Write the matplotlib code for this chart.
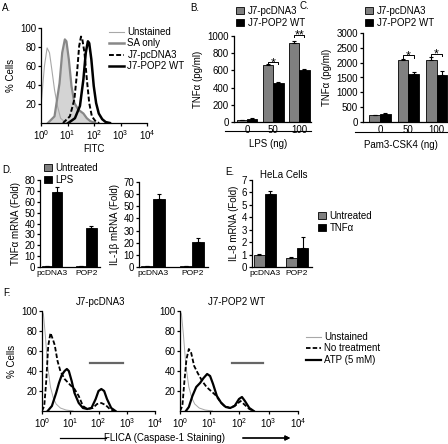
"""Multi-panel figure: flow histograms and bar charts."""

import numpy as np
import matplotlib
matplotlib.use("Agg")
from matplotlib import pyplot as plt
from matplotlib.lines import Line2D
from matplotlib.patches import Patch

# ---- data -------------------------------------------------------------
# A: FITC histograms (log10 position, % cells)
a_unst_x = [0, 0.13, 0.23, 0.32, 0.41, 0.51, 0.62, 0.74, 0.9, 1.1]
a_unst_y = [18, 60, 79, 74, 56, 35, 18, 5, 1, 0]
a_sa_x = [0.26, 0.51, 0.7, 0.8, 0.9, 0.96, 1.05, 1.15, 1.26, 1.41, 1.6, 1.73, 1.86, 2.05]
a_sa_y = [0, 7, 42, 74, 88, 86, 67, 39, 21, 14, 10, 5, 2, 0]
a_pc_x = [0.83, 1.09, 1.26, 1.36, 1.44, 1.51, 1.56, 1.64, 1.73, 1.82, 1.92, 2.08, 2.2]
a_pc_y = [0, 7, 25, 53, 81, 91, 88, 74, 46, 21, 7, 1, 0]
a_pop_x = [1.03, 1.28, 1.47, 1.6, 1.69, 1.77, 1.82, 1.9, 1.99, 2.08, 2.18, 2.31, 2.44, 2.6]
a_pop_y = [0, 5, 18, 46, 74, 86, 84, 67, 39, 21, 10, 4, 1, 0]

# B / C: TNFa ELISA
doses = ["0", "50", "100"]
b_pc = [20, 665, 920]
b_pc_err = [3, 10, 22]
b_pop = [40, 455, 610]
b_pop_err = [5, 5, 5]
c_pc = [240, 2100, 2090]
c_pc_err = [10, 30, 110]
c_pop = [270, 1620, 1600]
c_pop_err = [50, 70, 110]

# D / E: mRNA fold
cells = ["pcDNA3", "POP2"]
d_tnf_unt = [1, 1]
d_tnf_unt_err = [0.2, 0.2]
d_tnf_lps = [69, 36]
d_tnf_lps_err = [5, 2]
d_il1_unt = [1, 0.7]
d_il1_unt_err = [0.2, 0.2]
d_il1_lps = [56, 21]
d_il1_lps_err = [4.5, 3]
e_unt = [1.0, 0.75]
e_unt_err = [0.08, 0.05]
e_tnf = [5.85, 1.5]
e_tnf_err = [0.25, 0.9]

# F: FLICA histograms
f_unst_x = [0, 0.05, 0.12, 0.2, 0.3, 0.4, 0.5, 0.65, 0.85, 1.1]
f_unst_y = [100, 97, 75, 45, 24, 13, 7, 3, 1, 0]
fl_nt_x = [0, 0.08, 0.15, 0.22, 0.3, 0.38, 0.45, 0.55, 0.65, 0.8, 1.0, 1.15, 1.3,
           1.45, 1.6, 1.8, 1.95, 2.1, 2.25, 2.4, 2.55]
fl_nt_y = [0, 5, 30, 65, 78, 72, 66, 50, 40, 32, 26, 22, 15, 5, 2, 3, 7, 8, 6, 2, 0]
fl_atp_x = [0.2, 0.35, 0.5, 0.6, 0.7, 0.8, 0.88, 0.95, 1.05, 1.15, 1.3, 1.45, 1.6,
            1.75, 1.9, 2.0, 2.1, 2.2, 2.3, 2.45, 2.6]
fl_atp_y = [0, 5, 18, 28, 36, 40, 42, 40, 30, 18, 8, 3, 2, 3, 12, 20, 22, 20, 12, 3, 0]
fr_nt_x = [0, 0.08, 0.15, 0.22, 0.3, 0.38, 0.48, 0.6, 0.75, 0.9, 1.05, 1.2, 1.35,
           1.5, 1.7, 1.9, 2.05, 2.2, 2.35, 2.5]
fr_nt_y = [0, 5, 30, 52, 62, 58, 45, 38, 30, 24, 20, 16, 10, 5, 3, 6, 10, 6, 2, 0]
fr_atp_x = [0.2, 0.3, 0.42, 0.55, 0.68, 0.8, 0.92, 1.02, 1.12, 1.25, 1.4, 1.55, 1.7,
            1.85, 2.0, 2.1, 2.2, 2.35, 2.5]
fr_atp_y = [0, 4, 15, 24, 28, 33, 37, 35, 27, 15, 8, 4, 3, 5, 12, 14, 10, 3, 0]
# gate bars (log10 start, end)
fl_gate = [1.7, 2.85]
fr_gate = [1.76, 2.8]

decades = [0, 1, 2, 3, 4]

FS = 7
plt.rcParams["font.family"] = ["Liberation Sans", "DejaVu Sans"]
plt.rcParams["mathtext.fontset"] = "custom"
plt.rcParams["mathtext.rm"] = "Liberation Sans"
plt.rcParams["mathtext.it"] = "Liberation Sans"
plt.rcParams["font.size"] = FS
plt.rcParams["axes.linewidth"] = 0.9
plt.rcParams["xtick.major.width"] = 0.9
plt.rcParams["ytick.major.width"] = 0.9
plt.rcParams["xtick.major.size"] = 2.5
plt.rcParams["ytick.major.size"] = 2.5
plt.rcParams["xtick.major.pad"] = 1.5
plt.rcParams["ytick.major.pad"] = 1

W, H = 448, 444
fig = plt.figure(figsize=(W / 100, H / 100), dpi=100)

GRAY = "#808080"


def add_ax(x0, y0, x1, y1):
    ax = fig.add_axes([x0 / W, 1 - y1 / H, (x1 - x0) / W, (y1 - y0) / H])
    ax.spines["top"].set_visible(False)
    ax.spines["right"].set_visible(False)
    return ax


def fig_xy(x, y):
    return x / W, 1 - y / H


def log_axis(ax):
    ax.set_xscale("log")
    ax.set_xlim(1, 1e4)
    ax.set_xticks([10.0 ** d for d in decades])
    ax.set_xticklabels([rf"$\mathrm{{10}}^{{{d}}}$" for d in decades])
    ax.tick_params(axis="x", which="minor", length=1.5, width=0.6)
    ax.set_ylim(0, 100)
    ax.set_yticks([20, 40, 60, 80, 100])


def pair_bars(ax, a, a_err, b, b_err, w, labels):
    pos = np.arange(len(a))
    ekw = dict(lw=0.8, capsize=1.6, capthick=0.8, ecolor="black")
    ax.bar(pos - w / 2, a, w, yerr=[np.zeros(len(a)), a_err], color=GRAY,
           edgecolor="black", lw=0.6, error_kw=ekw)
    ax.bar(pos + w / 2, b, w, yerr=[np.zeros(len(b)), b_err], color="black",
           edgecolor="black", lw=0.6, error_kw=ekw)
    ax.set_xticks(pos)
    ax.set_xticklabels(labels)
    ax.tick_params(axis="x", length=0, pad=2)


def bracket(ax, x0, x1, y, drop, txt):
    ax.plot([x0, x0, x1, x1], [y - drop, y, y, y - drop], color="black",
            lw=0.7, clip_on=False)
    ax.annotate(txt, ((x0 + x1) / 2, y), xytext=(0, -3),
                textcoords="offset points", ha="center", va="baseline",
                fontsize=9, annotation_clip=False)


def x_caption(ax, x0, x1, y, txt, ty):
    ax.plot([x0, x1], [y, y], color="black", lw=0.8, transform=ax.transAxes,
            clip_on=False)
    ax.text((x0 + x1) / 2, ty, txt, ha="center", va="top",
            transform=ax.transAxes, fontsize=FS)


def box_legend(handles, labels, x, y):
    fig.legend(handles, labels, loc="upper left", bbox_to_anchor=fig_xy(x, y),
               frameon=False, borderpad=0, borderaxespad=0, labelspacing=0.2,
               handlelength=0.8, handleheight=0.8, handletextpad=0.4,
               fontsize=FS)


def line_legend(handles, labels, x, y):
    fig.legend(handles, labels, loc="upper left", bbox_to_anchor=fig_xy(x, y),
               frameon=False, borderpad=0, borderaxespad=0, labelspacing=0.15,
               handlelength=1.5, handletextpad=0.4, fontsize=FS)


# ---- A ----------------------------------------------------------------
axA = add_ax(41, 28, 147, 123)
log_axis(axA)
axA.fill_between(np.power(10.0, a_sa_x), a_sa_y, color="#d4d4d4", lw=0)
axA.plot(np.power(10.0, a_unst_x), a_unst_y, color="#a8a8a8", lw=0.8)
axA.plot(np.power(10.0, a_sa_x), a_sa_y, color="#888888", lw=1.6)
axA.plot(np.power(10.0, a_pc_x), a_pc_y, color="black", lw=1.4, ls=(0, (2.5, 1.2)))
axA.plot(np.power(10.0, a_pop_x), a_pop_y, color="black", lw=1.8)
axA.set_ylabel("% Cells", fontsize=FS, labelpad=3)
axA.set_xlabel("FITC", fontsize=FS, labelpad=1)
hA = [Line2D([], [], color="#a8a8a8", lw=0.8),
      Line2D([], [], color="#888888", lw=1.8),
      Line2D([], [], color="black", lw=1.4, ls=(0, (2.5, 1.2))),
      Line2D([], [], color="black", lw=1.8)]
line_legend(hA, ["Unstained", "SA only", "J7-pcDNA3", "J7-POP2 WT"], 109, 27)
fig.text(*fig_xy(2, 8), "A.", fontsize=FS, va="center")

# ---- B ----------------------------------------------------------------
hBC = [Patch(facecolor=GRAY, edgecolor="black", lw=0.6),
       Patch(facecolor="black", edgecolor="black", lw=0.6)]
axB = add_ax(234, 36, 311, 122)
pair_bars(axB, b_pc, b_pc_err, b_pop, b_pop_err, 0.4, doses)
axB.set_xlim(-0.5, 2.45)
axB.set_ylim(0, 1000)
axB.set_yticks(range(0, 1001, 200))
axB.set_ylabel("TNF\u03b1 (pg/ml)", fontsize=FS, labelpad=3)
bracket(axB, 0.8, 1.2, 700, 30, "*")
bracket(axB, 1.8, 2.2, 1015, 30, "**")
x_caption(axB, -0.12, 1.0, -0.11, "LPS (ng)", -0.2)
box_legend(hBC, ["J7-pcDNA3", "J7-POP2 WT"], 236, 6)
fig.text(*fig_xy(190, 8), "B.", fontsize=FS, va="center")

# ---- C ----------------------------------------------------------------
axC = add_ax(363, 33, 448, 122)
pair_bars(axC, c_pc, c_pc_err, c_pop, c_pop_err, 0.38, doses)
axC.set_xlim(-0.6, 2.4)
axC.set_ylim(0, 3000)
axC.set_yticks(range(0, 3001, 500))
axC.set_ylabel("TNF\u03b1 (pg/ml)", fontsize=FS, labelpad=3)
bracket(axC, 0.81, 1.19, 2250, 80, "*")
bracket(axC, 1.81, 2.19, 2300, 80, "*")
x_caption(axC, -0.1, 1.0, -0.11, "Pam3-CSK4 (ng)", -0.2)
box_legend(hBC, ["J7-pcDNA3", "J7-POP2 WT"], 365, 6)
fig.text(*fig_xy(300, 6), "C.", fontsize=FS, va="center")

# ---- D ----------------------------------------------------------------
axD1 = add_ax(40, 180, 100, 267)
pair_bars(axD1, d_tnf_unt, d_tnf_unt_err, d_tnf_lps, d_tnf_lps_err, 0.3, cells)
axD1.set_xlim(-0.35, 1.4)
axD1.set_ylim(0, 80)
axD1.set_yticks(range(0, 81, 10))
axD1.set_ylabel("TNF\u03b1 mRNA (Fold)", fontsize=FS, labelpad=2)
axD1.tick_params(axis="x", labelsize=6)

axD2 = add_ax(139, 182, 208, 267)
pair_bars(axD2, d_il1_unt, d_il1_unt_err, d_il1_lps, d_il1_lps_err, 0.3, cells)
axD2.set_xlim(-0.35, 1.4)
axD2.set_ylim(0, 70)
axD2.set_yticks(range(0, 71, 10))
axD2.set_ylabel("IL-1\u03b2 mRNA (Fold)", fontsize=FS, labelpad=2)
axD2.tick_params(axis="x", labelsize=6)
box_legend(hBC, ["Untreated", "LPS"], 44, 163)
fig.text(*fig_xy(2, 170), "D.", fontsize=FS, va="center")

# ---- E ----------------------------------------------------------------
axE = add_ax(252, 180, 312, 267)
pair_bars(axE, e_unt, e_unt_err, e_tnf, e_tnf_err, 0.35, cells)
axE.set_xlim(-0.4, 1.47)
axE.set_ylim(0, 7)
axE.set_yticks(range(0, 8))
axE.set_ylabel("IL-8 mRNA (Fold)", fontsize=FS, labelpad=2)
axE.tick_params(axis="x", labelsize=6)
fig.text(*fig_xy(284, 175), "HeLa Cells", fontsize=FS, ha="center", va="center")
box_legend(hBC, ["Untreated", "TNF\u03b1"], 318, 211)
fig.text(*fig_xy(225, 172), "E.", fontsize=FS, va="center")

# ---- F ----------------------------------------------------------------
for x0, x1, nt_x, nt_y, atp_x, atp_y, gate, title, tx, first in [
        (42, 155, fl_nt_x, fl_nt_y, fl_atp_x, fl_atp_y, fl_gate, "J7-pcDNA3", 0.52, True),
        (180, 298, fr_nt_x, fr_nt_y, fr_atp_x, fr_atp_y, fr_gate, "J7-POP2 WT", 0.48, False)]:
    ax = add_ax(x0, 311, x1, 411)
    log_axis(ax)
    ax.plot(np.power(10.0, f_unst_x), f_unst_y, color="#a8a8a8", lw=0.7)
    ax.plot(np.power(10.0, nt_x), nt_y, color="black", lw=1.3, ls=(0, (2.5, 1.2)))
    ax.plot(np.power(10.0, atp_x), atp_y, color="black", lw=1.6)
    ax.plot(np.power(10.0, gate), [48, 48], color="#666666", lw=1.6)
    ax.set_title(title, fontsize=FS, pad=4, x=tx)
    if first:
        ax.set_ylabel("% Cells", fontsize=FS, labelpad=3)

hF = [Line2D([], [], color="#a8a8a8", lw=0.8),
      Line2D([], [], color="black", lw=1.3, ls=(0, (2.5, 1.2))),
      Line2D([], [], color="black", lw=1.6)]
line_legend(hF, ["Unstained", "No treatment", "ATP (5 mM)"], 306, 332)
fig.text(*fig_xy(3, 293), "F.", fontsize=FS, va="center")

fig.text(*fig_xy(104, 438), "FLICA (Caspase-1 Staining)", fontsize=FS,
         ha="left", va="center")
fig.add_artist(Line2D([60 / W, 106 / W], [1 - 438 / H, 1 - 438 / H],
                      color="black", lw=0.9))
fig.add_artist(plt.annotate("", xy=fig_xy(293, 438), xytext=fig_xy(240, 438),
                            xycoords="figure fraction",
                            arrowprops=dict(arrowstyle="-|>", lw=0.9,
                                            color="black", mutation_scale=7)))

fig.savefig("out.png", dpi=100)
